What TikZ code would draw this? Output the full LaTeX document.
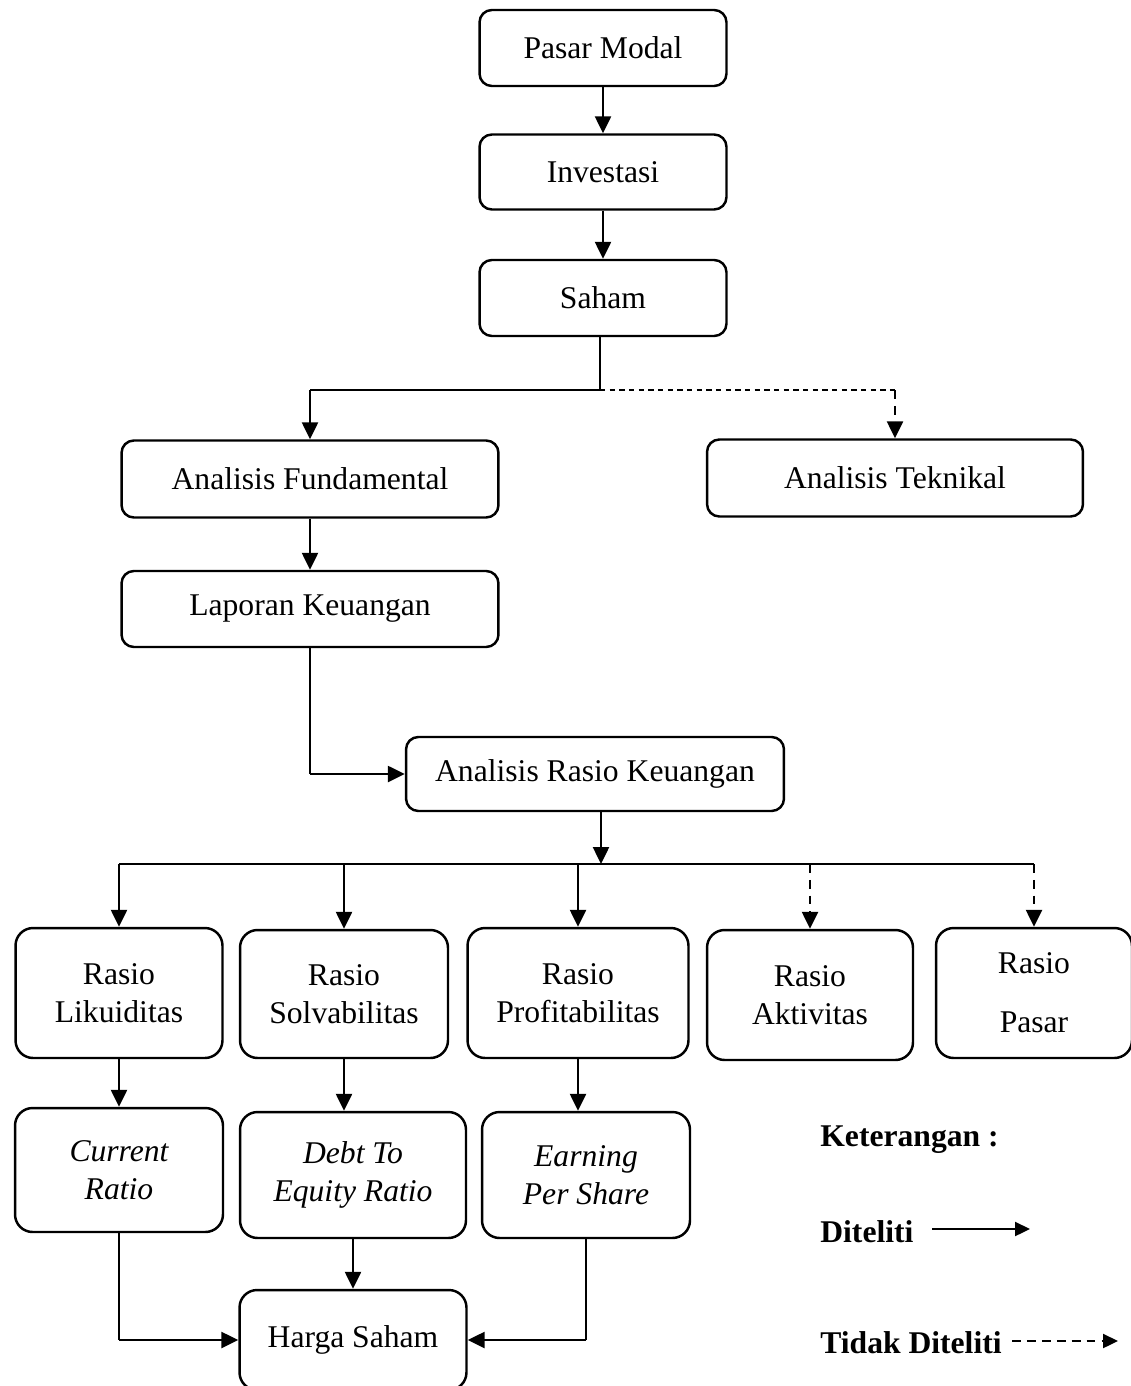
\documentclass[tikz,border=0pt]{standalone}
\usepackage{fontspec}
\setmainfont{Liberation Serif}
\usetikzlibrary{arrows.meta}
\tikzset{
	kbox/.style={
		draw,
		rounded corners=7pt,
		line width=1.4pt,
		align=center,
		inner sep=2pt,
		font=\fontsize{18}{21.6}\selectfont
	},
	tbox/.style={kbox, rounded corners=10pt},
	klink/.style={line width=0.7pt},
	karr/.style={-{Triangle[length=3.4mm,width=3.2mm]}, line width=1.4pt},
	kdash/.style={karr, dash pattern=on 5pt off 4pt},
	kleg/.style={font=\fontsize{18}{21.6}\selectfont\bfseries, inner sep=0pt},
	klegarr/.style={-{Triangle[length=3mm,width=2.8mm]}, line width=1.3pt}
}
\begin{document}
\begin{tikzpicture}[x=0.02cm, y=-0.02cm]
	\useasboundingbox (0,0) rectangle (1131,1386);
	\node[kbox, minimum width=4.94cm, minimum height=1.52cm] (PM) at (603,48) {Pasar Modal};
	\node[kbox, minimum width=4.94cm, minimum height=1.50cm] (INV) at (603,172) {Investasi};
	\node[kbox, minimum width=4.94cm, minimum height=1.52cm] (SH) at (603,298) {Saham};
	\node[kbox, minimum width=7.54cm, minimum height=1.54cm] (AF) at (310,479) {Analisis Fundamental};
	\node[kbox, minimum width=7.52cm, minimum height=1.54cm] (AT) at (895,478) {Analisis Teknikal};
	\node[kbox, minimum width=7.54cm, minimum height=1.52cm] (LK) at (310,609) {Laporan Keuangan};
	\node[kbox, minimum width=7.56cm, minimum height=1.48cm] (ARK) at (595,774) {Analisis Rasio Keuangan};
	\node[tbox, minimum width=4.14cm, minimum height=2.60cm] (RL) at (119,993) {Rasio\\Likuiditas};
	\node[tbox, minimum width=4.16cm, minimum height=2.56cm] (RS) at (344,994) {Rasio\\Solvabilitas};
	\node[tbox, minimum width=4.42cm, minimum height=2.60cm] (RP) at (578,993) {Rasio\\Profitabilitas};
	\node[tbox, minimum width=4.12cm, minimum height=2.60cm] (RA) at (810,995) {Rasio\\Aktivitas};
	\node[tbox, minimum width=3.92cm, minimum height=2.60cm] (RPS) at (1034,993) {Rasio\\[12pt]Pasar};
	\node[tbox, minimum width=4.16cm, minimum height=2.48cm] (CR) at (119,1170) {\itshape Current\\\itshape Ratio};
	\node[tbox, minimum width=4.52cm, minimum height=2.52cm] (DE) at (353,1175) {\itshape Debt To\\\itshape Equity Ratio};
	\node[tbox, minimum width=4.16cm, minimum height=2.52cm] (EPS) at (586,1175) {\itshape Earning\\\itshape Per Share};
	\node[tbox, minimum width=4.54cm, minimum height=2.00cm] (HS) at (353,1340) {Harga Saham};
	\coordinate (SP) at (600,390);
	\coordinate (RK) at (601,864);
	\draw[karr] (PM) -- (INV);
	\draw[karr] (INV) -- (SH);
	\draw[klink] (SH.south -| SP) -- (SP);
	\draw[klink] (SP) -- (SP -| AF.north);
	\draw[karr] (SP -| AF.north) -- (AF.north);
	\draw[klink, dash pattern=on 3pt off 2.5pt] (SP) -- (SP -| AT.north);
	\draw[kdash] (SP -| AT.north) -- (AT.north);
	\draw[karr] (AF) -- (LK);
	\draw[klink] (LK.south) -- (LK.south |- ARK.west);
	\draw[karr] (LK.south |- ARK.west) -- (ARK.west);
	\draw[karr] (ARK.south -| RK) -- (RK);
	\draw[klink] (RK -| RL.north) -- (RK -| RPS.north);
	\draw[karr] (RK -| RL.north) -- (RL.north);
	\draw[karr] (RK -| RS.north) -- (RS.north);
	\draw[karr] (RK -| RP.north) -- (RP.north);
	\draw[kdash] (RK -| RA.north) -- (RA.north);
	\draw[kdash] (RK -| RPS.north) -- (RPS.north);
	\draw[karr] (RL.south) -- (RL.south |- CR.north);
	\draw[karr] (RS.south) -- (RS.south |- DE.north);
	\draw[karr] (RP.south) -- (RP.south |- EPS.north);
	\draw[klink] (CR.south) -- (CR.south |- HS.west);
	\draw[karr] (CR.south |- HS.west) -- (HS.west);
	\draw[karr] (DE.south) -- (HS.north);
	\draw[klink] (EPS.south) -- (EPS.south |- HS.east);
	\draw[karr] (EPS.south |- HS.east) -- (HS.east);
	\node[kleg, anchor=west] (K1) at (820,1140) {Keterangan :};
	\node[kleg, anchor=west] (K2) at (820,1232) {Diteliti};
	\node[kleg, anchor=west] (K3) at (820,1343) {Tidak Diteliti};
	\coordinate (D1) at (932,1229);
	\coordinate (D2) at (1030,1229);
	\coordinate (D3) at (1012,1341);
	\coordinate (D4) at (1118,1341);
	\draw[klegarr] (D1) -- (D2);
	\draw[klegarr, dash pattern=on 5pt off 3.5pt] (D3) -- (D4);
\end{tikzpicture}
\end{document}
